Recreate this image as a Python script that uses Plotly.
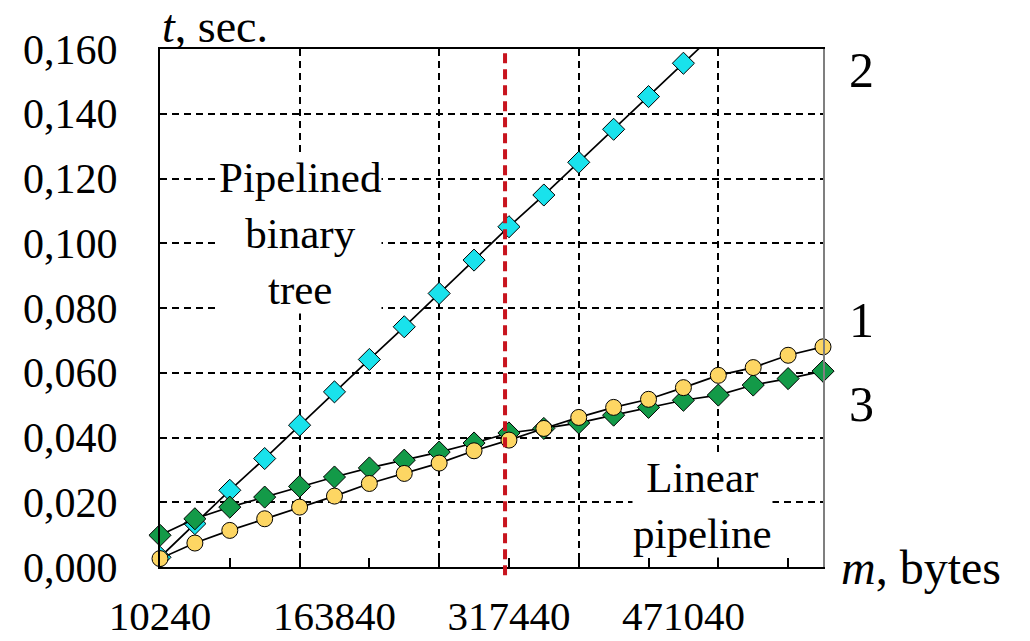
import plotly.graph_objects as go

# ---- data ----
m_bytes = [10240 + 30720 * k for k in range(20)]
tick_vals = [10240, 163840, 317440, 471040]
tick_text = ["10240", "163840", "317440", "471040"]

# series 1: yellow circles
t_series1 = [0.0026, 0.0074, 0.0113, 0.0149, 0.0185, 0.0219, 0.0258, 0.0289, 0.0321, 0.0359,
             0.0392, 0.0428, 0.0462, 0.0493, 0.0518, 0.0554, 0.0592, 0.0616, 0.0654, 0.0680]
# series 2: cyan diamonds (pipelined binary tree), leaves the plot after the 16th point
t_series2 = [0.0030, 0.0134, 0.0237, 0.0335, 0.0438, 0.0541, 0.0641, 0.0742, 0.0845, 0.0948,
             0.1051, 0.1149, 0.1250, 0.1352, 0.1453, 0.1556, 0.1658]
# series 3: green diamonds
t_series3 = [0.0098, 0.0149, 0.0185, 0.0216, 0.0249, 0.0278, 0.0306, 0.0330, 0.0355, 0.0383,
             0.0414, 0.0428, 0.0445, 0.0469, 0.0493, 0.0515, 0.0531, 0.0562, 0.0582, 0.0605]
threshold_m = 314000

FONT = "Liberation Serif, Times New Roman, serif"
X_RANGE = [10240, 593920]
Y_RANGE = [0, 0.160]

fig = go.Figure()
fig.add_trace(go.Scatter(
    x=m_bytes[:len(t_series2)], y=t_series2, mode="lines+markers",
    line=dict(color="black", width=1.7),
    marker=dict(symbol="diamond", size=17, color="#19E2EC", line=dict(color="black", width=1)),
    cliponaxis=True, showlegend=False))
fig.add_trace(go.Scatter(
    x=m_bytes, y=t_series3, mode="lines+markers",
    line=dict(color="black", width=1.7),
    marker=dict(symbol="diamond", size=17, color="#139A48", line=dict(color="black", width=1)),
    cliponaxis=False, showlegend=False))
fig.add_trace(go.Scatter(
    x=m_bytes, y=t_series1, mode="lines+markers",
    line=dict(color="black", width=1.7),
    marker=dict(symbol="circle", size=16, color="#FDD663", line=dict(color="black", width=1)),
    cliponaxis=False, showlegend=False))

fig.add_shape(type="line", xref="x", yref="paper", x0=threshold_m, x1=threshold_m,
              y0=-0.016, y1=1, line=dict(color="#C8141E", width=4, dash="10px,6px"), layer="above")

fig.update_layout(
    width=1030, height=641,
    margin=dict(l=160, r=207, t=49, b=74, autoexpand=False),
    paper_bgcolor="white", plot_bgcolor="white",
    separators=", ",
    font=dict(family=FONT, size=42, color="black"),
    xaxis=dict(range=X_RANGE, tickmode="array", tickvals=tick_vals, ticktext=tick_text,
               showgrid=False, zeroline=False, ticks="", showline=True, linecolor="black",
               linewidth=2, mirror=True, ticklabelstandoff=12, automargin=False,
               tickfont=dict(family=FONT, size=41)),
    xaxis2=dict(range=X_RANGE, overlaying="x", tickmode="linear", tick0=10240, dtick=122880,
                showticklabels=False, ticks="inside", ticklen=9, tickcolor="black", tickwidth=1.5,
                showgrid=True, gridcolor="black", gridwidth=1.5, griddash="7px,5px",
                zeroline=False, showline=False, automargin=False,
                minor=dict(tick0=10240, dtick=61440, ticks="inside", ticklen=9,
                           tickcolor="black", tickwidth=1.5, showgrid=False)),
    yaxis=dict(range=Y_RANGE, tickmode="linear", tick0=0, dtick=0.02, tickformat=".3f",
               showgrid=True, gridcolor="black", gridwidth=1.5, griddash="7px,5px",
               zeroline=False, ticks="", showline=True, linecolor="black", linewidth=2,
               ticklabelstandoff=32, automargin=False, tickfont=dict(family=FONT, size=42)),
    yaxis2=dict(range=Y_RANGE, overlaying="y", side="right", showgrid=False,
                showticklabels=False, ticks="", zeroline=False, showline=True,
                linecolor="#7F7F7F", linewidth=2, automargin=False),
)
# invisible trace to activate overlay axes
fig.add_trace(go.Scatter(x=[None], y=[None], xaxis="x2", yaxis="y2", showlegend=False,
                         hoverinfo="skip"))

def f(size):
    return dict(family=FONT, size=size, color="black")

fig.add_annotation(text="<i>t</i>, sec.", xref="paper", yref="paper", x=0, y=1,
                   xanchor="left", yanchor="bottom", yshift=-5, showarrow=False, font=f(46))
fig.add_annotation(text="<i>m</i>, bytes", xref="paper", yref="y", x=1, y=0,
                   xanchor="left", yanchor="middle", xshift=16, showarrow=False, font=f(48))
for lab, yv in [("2", 0.1535), ("1", 0.0763), ("3", 0.0503)]:
    fig.add_annotation(text=lab, xref="paper", yref="y", x=1, y=yv, xanchor="left",
                       yanchor="middle", xshift=24, showarrow=False, font=f(50))
fig.add_annotation(text="Pipelined<br>binary<br>tree", xref="x", yref="y", x=133120, y=0.1031,
                   xanchor="center", yanchor="middle", bgcolor="white", borderpad=0,
                   showarrow=False, font=f(43))
fig.add_annotation(text="Linear<br>pipeline", xref="x", yref="y", x=488000, y=0.0191,
                   xanchor="center", yanchor="middle", bgcolor="white", borderpad=0,
                   showarrow=False, font=f(43))

fig.write_html("out.html")
